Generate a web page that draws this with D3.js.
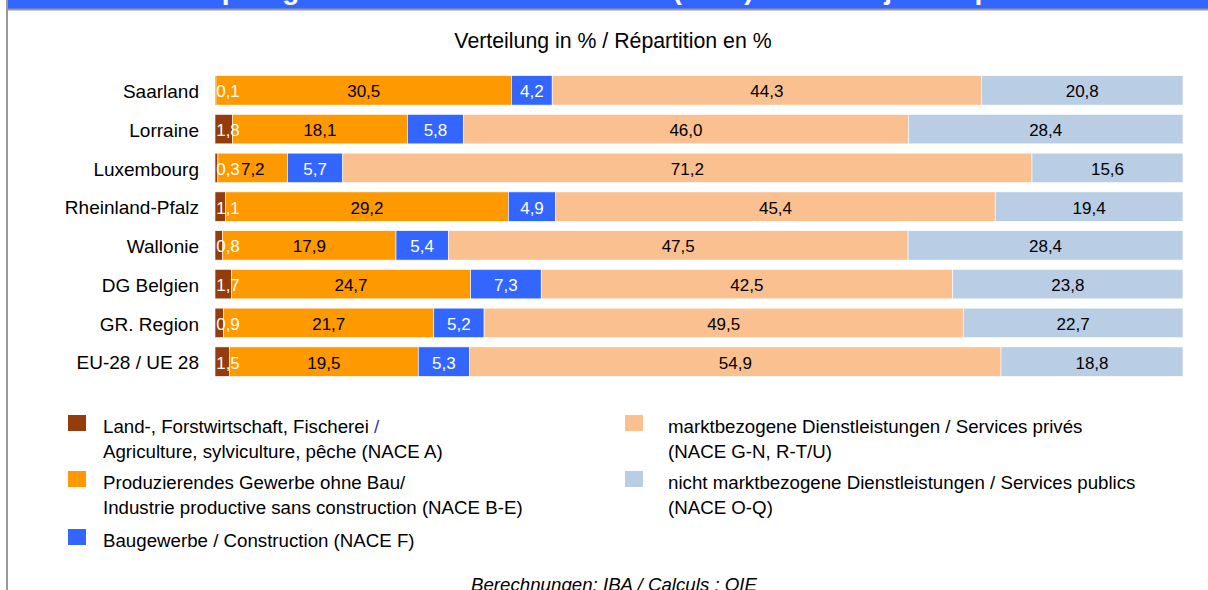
<!DOCTYPE html>
<html>
<head>
<meta charset="utf-8">
<script src="https://cdn.jsdelivr.net/npm/d3@7"></script>
<style>
  body { margin: 0; background: #ffffff; overflow: hidden; }
  text { font-family: "Liberation Sans", Arial, sans-serif; }
</style>
</head>
<body>
<script>
const width = 1208;
const height = 590;

//DATA
const regions = ["Saarland", "Lorraine", "Luxembourg", "Rheinland-Pfalz", "Wallonie", "DG Belgien", "GR. Region", "EU-28 / UE 28"];
const agriculture = [0.1, 1.8, 0.3, 1.1, 0.8, 1.7, 0.9, 1.5];
const industry = [30.5, 18.1, 7.2, 29.2, 17.9, 24.7, 21.7, 19.5];
const construction = [4.2, 5.8, 5.7, 4.9, 5.4, 7.3, 5.2, 5.3];
const privateServices = [44.3, 46.0, 71.2, 45.4, 47.5, 42.5, 49.5, 54.9];
const publicServices = [20.8, 28.4, 15.6, 19.4, 28.4, 23.8, 22.7, 18.8];

const seriesKeys = ["agri", "ind", "constr", "priv", "pub"];
const seriesColors = ["#943c0c", "#ff9900", "#3366ff", "#fac090", "#b9cde5"];
const labelColors = ["#ffffff", "#000000", "#ffffff", "#000000", "#000000"];

const legendLines = [
    ["Land-, Forstwirtschaft, Fischerei", "Agriculture, sylviculture, pêche (NACE A)"],
    ["Produzierendes Gewerbe ohne Bau/", "Industrie productive sans construction (NACE B-E)"],
    ["Baugewerbe / Construction (NACE F)"],
    ["marktbezogene Dienstleistungen / Services privés", "(NACE G-N, R-T/U)"],
    ["nicht marktbezogene Dienstleistungen / Services publics", "(NACE O-Q)"]
];

const titleText = "Wertschöpfung nach Wirtschaftsbereichen (2017) / Valeur ajoutée par secteur";
const subtitleText = "Verteilung in % / Répartition en %";
const sourceText = "Berechnungen: IBA / Calculs : OIE";

//build table for d3.stack
const table = regions.map((r, i) => ({
    region: r,
    agri: agriculture[i],
    ind: industry[i],
    constr: construction[i],
    priv: privateServices[i],
    pub: publicServices[i]
}));

const stacked = d3.stack()
    .keys(seriesKeys)
    .offset(d3.stackOffsetExpand)(table);

const fmt = d3.formatLocale({decimal: ",", thousands: ".", grouping: [3], currency: ["", ""]}).format(".1f");

const svg = d3.select("body").append("svg")
    .attr("width", width)
    .attr("height", height);

//Top banner with title (only the descenders are visible)
svg.append("clipPath").attr("id", "bannerClip")
    .append("rect").attr("x", 8).attr("y", 0).attr("width", width - 8).attr("height", 8.5);

svg.append("rect")
    .attr("x", 8).attr("y", 0)
    .attr("width", width - 8).attr("height", 9)
    .attr("fill", "#3366ff");

svg.append("text")
    .attr("clip-path", "url(#bannerClip)")
    .attr("x", 610)
    .attr("y", -1)
    .attr("text-anchor", "middle")
    .style("font-size", "28px")
    .style("font-weight", "bold")
    .style("fill", "#ffffff")
    .text(titleText);

svg.append("rect")
    .attr("x", 8).attr("y", 8.5)
    .attr("width", width - 8).attr("height", 2)
    .attr("fill", "#9a9a9a");

//Left border
svg.append("rect")
    .attr("x", 6).attr("y", 0)
    .attr("width", 2).attr("height", height)
    .attr("fill", "#9a9a9a");

//Subtitle
svg.append("text")
    .attr("x", 613)
    .attr("y", 48)
    .attr("text-anchor", "middle")
    .style("font-size", "21.3px")
    .style("fill", "#000000")
    .text(subtitleText);

//Scales
const x = d3.scaleLinear()
    .domain([0, 1])
    .range([215, 1183]);

const y = d3.scaleBand()
    .domain(regions)
    .range([71, 381])
    .paddingInner(0.24)
    .paddingOuter(0.12);

//Bars
const layers = svg.append("g").selectAll("g")
    .data(stacked)
    .join("g")
    .attr("fill", (d, i) => seriesColors[i]);

layers.selectAll("rect")
    .data(d => d)
    .join("rect")
    .attr("x", d => x(d[0]))
    .attr("y", d => y(d.data.region))
    .attr("width", d => x(d[1]) - x(d[0]))
    .attr("height", y.bandwidth())
    .attr("stroke", "#ffffff")
    .attr("stroke-width", 0.6);

//Value labels
stacked.forEach((layer, li) => {
    svg.append("g").selectAll("text")
        .data(layer)
        .join("text")
        .attr("x", d => {
            const c = (x(d[0]) + x(d[1])) / 2;
            return li === 0 ? Math.max(c, x(0) + 13) : c;
        })
        .attr("y", d => y(d.data.region) + y.bandwidth() / 2 + 1)
        .attr("dy", "0.35em")
        .attr("text-anchor", "middle")
        .style("font-size", "17px")
        .style("fill", labelColors[li])
        .text(d => fmt(d.data[layer.key]));
});

//Category axis
const yAxis = svg.append("g")
    .attr("transform", "translate(215,0)")
    .call(d3.axisLeft(y).tickSize(0).tickPadding(16));
yAxis.select(".domain").remove();
yAxis.selectAll("text")
    .attr("y", 1)
    .attr("dy", "0.35em")
    .style("font-family", "'Liberation Sans', Arial, sans-serif")
    .style("font-size", "19px")
    .style("fill", "#000000");

//Legend
const legendPos = [
    {sx: 68, tx: 103, base: 433},
    {sx: 68, tx: 103, base: 489},
    {sx: 68, tx: 103, base: 547},
    {sx: 625, tx: 668, base: 433},
    {sx: 625, tx: 668, base: 489}
];

legendLines.forEach((lines, i) => {
    const p = legendPos[i];
    svg.append("rect")
        .attr("x", p.sx)
        .attr("y", p.base - 18)
        .attr("width", 18)
        .attr("height", 16)
        .attr("fill", seriesColors[i]);

    lines.forEach((line, j) => {
        const t = svg.append("text")
            .attr("x", p.tx)
            .attr("y", p.base + j * 24.5)
            .style("font-size", "18.7px")
            .style("fill", "#000000")
            .text(line);
        //the slash after the first entry is blue in the original
        if (i === 0 && j === 0) {
            t.append("tspan").style("fill", "#3333cc").text(" /");
        }
    });
});

//Source
svg.append("text")
    .attr("x", 614)
    .attr("y", 591)
    .attr("text-anchor", "middle")
    .style("font-size", "18.7px")
    .style("font-style", "italic")
    .style("fill", "#000000")
    .text(sourceText);
</script>
</body>
</html>
